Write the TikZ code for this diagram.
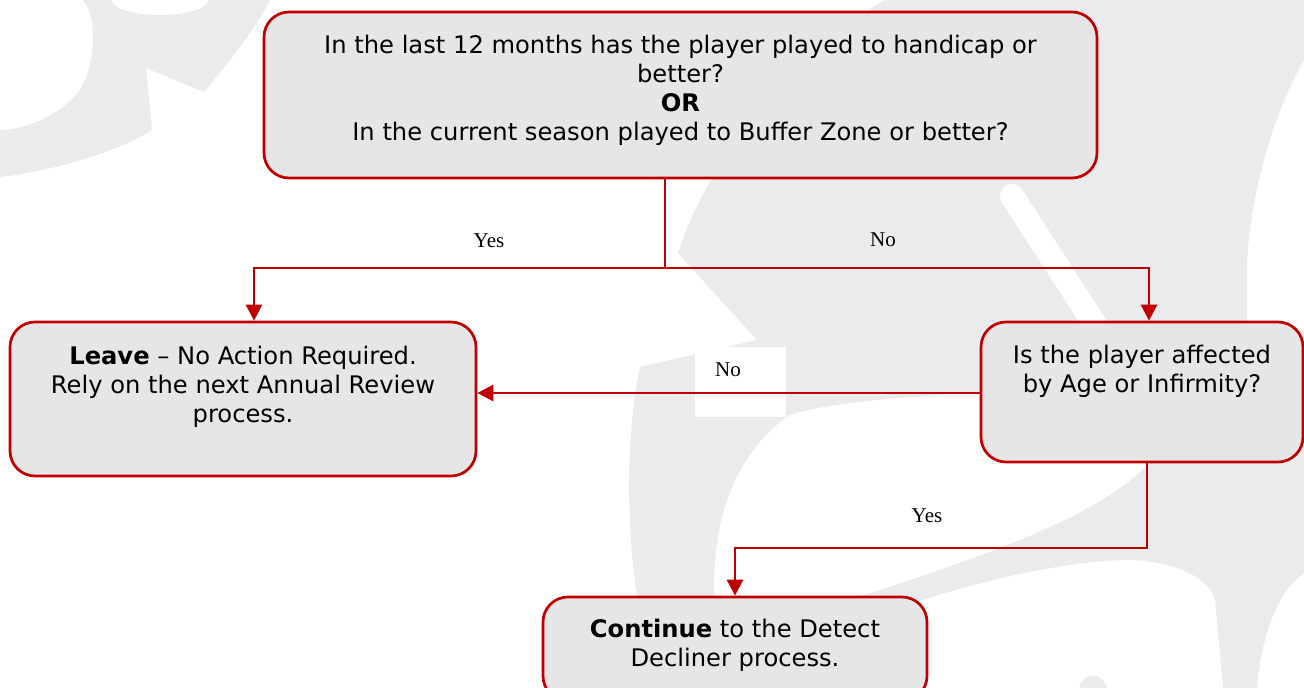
\documentclass[tikz,border=0pt]{standalone}
\usepackage{fontspec}
\setmainfont{DejaVu Sans}
\newfontfamily\labfont{Liberation Serif}
\usetikzlibrary{arrows.meta}
\definecolor{boxred}{RGB}{192,0,0}
\definecolor{boxfill}{RGB}{230,230,230}
\definecolor{wm}{RGB}{234,235,237}
\tikzset{
  flowbox/.style={draw=boxred, fill=boxfill, line width=2.7pt, rounded corners=25pt, inner sep=0pt},
  boxtext/.style={align=center, inner sep=0pt, anchor=north, font=\fontsize{24.2}{29}\selectfont},
  conn/.style={draw=boxred, line width=2.7pt, -{Triangle[width=16pt,length=16pt]}},
  plainline/.style={draw=boxred, line width=2.7pt},
  lab/.style={font=\labfont\fontsize{21}{24}\selectfont, inner sep=0pt},
}
\begin{document}
\begin{tikzpicture}[x=1pt,y=-1pt]
\useasboundingbox (0,0) rectangle (1304,688);
\clip (0,0) rectangle (1304,688);
\fill[white] (0,0) rectangle (1304,688);
% watermark
\fill[wm] (83,0) .. controls (100,20) and (95,80) .. (71,100) .. controls (50,120) and (20,130) .. (0,130)
  -- (0,177) .. controls (60,170) and (120,150) .. (152,130) -- (146,68) -- (204,92)
  .. controls (230,60) and (255,30) .. (270,0) -- cycle;
\fill[white] (160,0) ellipse [x radius=48, y radius=15];
\fill[wm] (885,0) -- (1304,0) -- (1304,688) -- (660,688)
  .. controls (625,600) and (622,450) .. (640,367) -- (757,340) -- (678,253)
  .. controls (700,180) and (780,60) .. (885,0) -- cycle;
\fill[white] (1304,60) .. controls (1270,120) and (1250,200) .. (1247,265)
  -- (1247,330) -- (1304,330) -- cycle;
\draw[white, line width=24pt, line cap=round] (1012,196) -- (1105,340);
\fill[white] (715,612) .. controls (710,540) and (725,460) .. (790,415)
  .. controls (850,395) and (1000,395) .. (1100,380) -- (1150,462)
  .. controls (1100,515) and (1000,550) .. (880,590)
  .. controls (840,603) and (800,611) .. (715,612) -- cycle;
\fill[white] (780,620) -- (923,600) .. controls (1000,575) and (1080,560) .. (1130,560)
  .. controls (1180,562) and (1210,580) .. (1215,600) -- (1223,688) -- (740,688) -- cycle;
\fill[wm] (1093,690) circle (14);
\fill[white] (1304,573) .. controls (1280,590) and (1262,630) .. (1257,688) -- (1304,688) -- cycle;

% boxes
\node[flowbox, minimum width=833pt, minimum height=166pt] (q1) at (680.5,95) {};
\node[flowbox, minimum width=466pt, minimum height=154pt] (leave) at (243,399) {};
\node[flowbox, minimum width=322pt, minimum height=140pt] (q2) at (1142,392) {};
\node[flowbox, minimum width=384pt, minimum height=104pt] (cont) at (735,649) {};

\node[boxtext] (q1t) at (680.5,35) {In the last 12 months has the player played to handicap or\\better?\\\textbf{OR}\\In the current season played to Buffer Zone or better?};
\node[boxtext] (leavet) at (243,346) {\textbf{Leave} – No Action Required.\\Rely on the next Annual Review\\process.};
\node[boxtext] (q2t) at (1142,345) {Is the player affected\\by Age or Infirmity?};
\node[boxtext] (contt) at (735,619) {\textbf{Continue} to the Detect\\Decliner process.};

% coordinates
\coordinate (j1) at (665,268);
\coordinate (lx) at (254,0);
\coordinate (rx) at (1149,0);
\coordinate (ny) at (0,393);
\coordinate (yx) at (1147,0);
\coordinate (ya) at (0,548);

% white label patch
\node[fill=white, minimum width=91pt, minimum height=70pt, inner sep=0pt] (nopatch) at (740.5,382) {};

% connectors
\draw[plainline] (q1.south -| j1) -- (j1);
\draw[conn] (j1) -| (leave.north -| lx);
\draw[conn] (j1) -| (q2.north -| rx);
\draw[conn] (q2.west |- ny) -- (leave.east |- ny);
\draw[conn] (q2.south -| yx) |- (cont.north |- ya) -- (cont.north);

% labels
\node[lab] (yes1) at (489,241) {Yes};
\node[lab] (no1) at (883,240) {No};
\node[lab] (no2) at (728,370) {No};
\node[lab] (yes2) at (927,516) {Yes};
\end{tikzpicture}
\end{document}
